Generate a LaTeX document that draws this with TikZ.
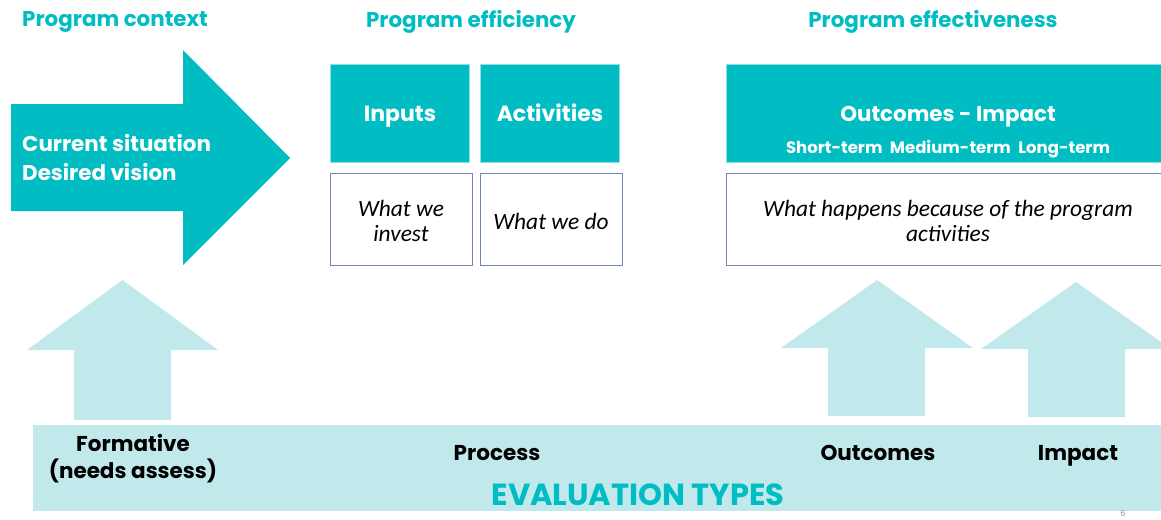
\documentclass[tikz,border=0pt]{standalone}
\usepackage{fontspec}
\setmainfont{Poppins}
\newfontfamily\notefont{Carlito}
\definecolor{tealmain}{HTML}{00BCC3}
\definecolor{tealedge}{HTML}{8FE0E3}
\definecolor{lightteal}{HTML}{C1E9EC}
\definecolor{boxline}{HTML}{7085B5}
\definecolor{pagegray}{HTML}{8A8A8A}
\begin{document}
\begin{tikzpicture}[x=1pt,y=-1pt,
  heading/.style={text=tealmain, font=\bfseries\fontsize{21.4}{24}\selectfont, inner sep=0pt},
  tealbox/.style={fill=tealmain, draw=tealedge, line width=0.8pt, text=white,
    align=center, inner sep=0pt},
  boxtitle/.style={font=\bfseries\fontsize{22}{26}\selectfont},
  notebox/.style={draw=boxline, fill=white, line width=1pt, inner sep=0pt},
  notetext/.style={align=center, inner sep=0pt,
    font=\notefont\itshape\fontsize{23.4}{25}\selectfont},
  bandlabel/.style={text=black, align=center, inner sep=0pt,
    font=\bfseries\fontsize{21.5}{27}\selectfont}]
\useasboundingbox (0,0) rectangle (1161,519);
\clip (0,0) rectangle (1161,519);

% section headings
\node[heading, anchor=west] (hctx) at (22,22) {Program context};
\node[heading] (heff) at (471,22) {Program efficiency};
\node[heading] (hout) at (933,22) {Program effectiveness};

% program context arrow
\fill[tealmain] (11,104) -- (183,104) -- (183,50) -- (290,158) -- (183,265)
  -- (183,211) -- (11,211) -- cycle;
\node[anchor=west, align=left, text=white, inner sep=0pt,
  font=\bfseries\fontsize{21.4}{29}\selectfont] (ctx) at (22,158)
  {Current situation\\Desired vision};

% efficiency boxes
\node[tealbox, minimum width=139, minimum height=98] (inputs) at (399.5,113) {};
\node[tealbox, minimum width=139, minimum height=98] (activities) at (549.5,113) {};
\node[text=white, boxtitle, inner sep=0pt, anchor=base] (tinputs) at (400,121) {Inputs};
\node[text=white, boxtitle, inner sep=0pt, anchor=base] (tacts) at (550,121) {Activities};
\node[notebox, minimum width=142, minimum height=92] (invest) at (401,219) {};
\node[notebox, minimum width=142, minimum height=92] (do) at (551,219) {};
\node[notetext] (tinvest) at (401,221) {What we\\invest};
\node[notetext] (tdo) at (551,221) {What we do};

% effectiveness boxes
\node[tealbox, minimum width=444, minimum height=98] (outcomes) at (948,113) {};
\node[text=white, inner sep=0pt, anchor=base, font=\bfseries\fontsize{21.4}{26}\selectfont]
  (otitle) at (948,121) {Outcomes - Impact};
\node[text=white, inner sep=0pt, anchor=base, font=\bfseries\fontsize{16.5}{19}\selectfont]
  (terms) at (948,153) {Short-term\hspace{0.45em}Medium-term\hspace{0.45em}Long-term};
\node[notebox, minimum width=444, minimum height=92] (happens) at (948,219) {};
\node[notetext] (thappens) at (948,221) {What happens because of the program\\activities};

% evaluation type arrows
\fill[lightteal] (74,420) -- (74,350) -- (27,350) -- (122.5,280) -- (218,350)
  -- (171,350) -- (171,420) -- cycle;
\fill[lightteal] (828,416) -- (828,348) -- (781,348) -- (877,280) -- (973,348)
  -- (925,348) -- (925,416) -- cycle;
\fill[lightteal] (1028,417) -- (1028,349) -- (981,349) -- (1076,282) -- (1171,349)
  -- (1125,349) -- (1125,417) -- cycle;

% evaluation types band
\node[fill=lightteal, minimum width=1137, minimum height=86, inner sep=0pt] (band) at (601.5,468) {};
\node[bandlabel] (formative) at (133,459) {Formative\\(needs assess)};
\node[bandlabel, anchor=base] (process) at (497,460) {Process};
\node[bandlabel, anchor=base] (outc) at (878,460) {Outcomes};
\node[bandlabel, anchor=base] (impact) at (1078,460) {Impact};
\node[text=tealmain, inner sep=0pt, anchor=base, font=\bfseries\fontsize{30.5}{34}\selectfont]
  (evtypes) at (638,505) {EVALUATION TYPES};

% page number
\node[text=pagegray, inner sep=0pt, font=\fontsize{8}{10}\selectfont] (page) at (1123,514) {6};
\end{tikzpicture}
\end{document}
